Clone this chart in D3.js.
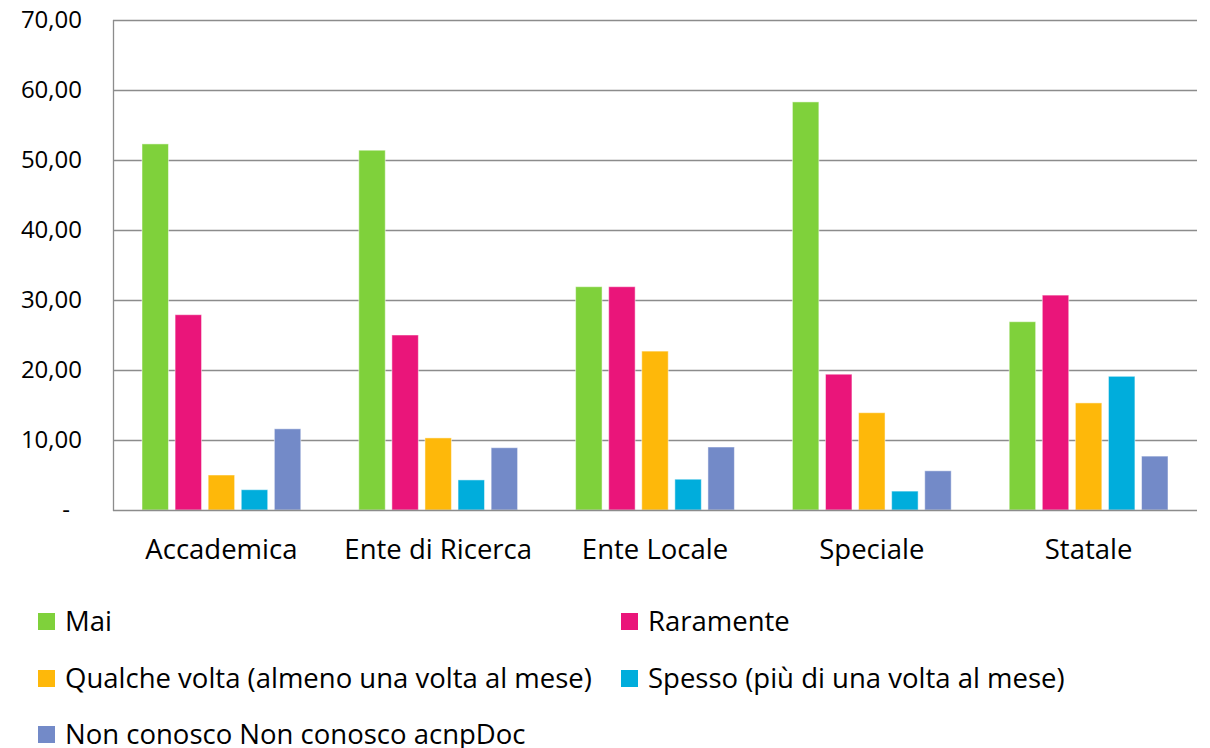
<!DOCTYPE html>
<html lang="it">
<head>
<meta charset="utf-8">
<script src="https://d3js.org/d3.v7.min.js"></script>
<style>
  body { margin: 0; background: #fff; }
  text { font-family: "Open Sans", sans-serif; fill: #000; }
</style>
</head>
<body>
<script>
// categories and series
var categories = ["Accademica", "Ente di Ricerca", "Ente Locale", "Speciale", "Statale"];
var seriesNames = ["Mai", "Raramente", "Qualche volta (almeno una volta al mese)",
                   "Spesso (più di una volta al mese)", "Non conosco Non conosco acnpDoc"];
var seriesColors = ["#7fd13b", "#ea157a", "#feb80a", "#00addc", "#738ac8"];

// values per series, one entry per category
var mai        = [52.3, 51.4, 31.9, 58.3, 26.9];
var raramente  = [27.9, 25.0, 31.9, 19.4, 30.7];
var qualche    = [5.0, 10.3, 22.7, 13.9, 15.3];
var spesso     = [2.9, 4.3, 4.4, 2.7, 19.1];
var nonConosco = [11.6, 8.9, 9.0, 5.6, 7.7];
var yTicks = [0, 10, 20, 30, 40, 50, 60, 70];

var seriesValues = [mai, raramente, qualche, spesso, nonConosco];

var W = 1210, H = 748;
var mLeft = 113, mRight = 1197, mTop = 20, mBottom = 510;

var svg = d3.select("body").append("svg")
  .attr("width", W)
  .attr("height", H);

var y = d3.scaleLinear().domain([0, 70]).range([mBottom, mTop]);

var x0 = d3.scaleBand().domain(categories).range([mLeft, mRight]);
var x1 = d3.scaleBand().domain(d3.range(seriesNames.length))
  .range([29, x0.bandwidth() - 29])
  .paddingInner(0.2);

// gridlines
svg.append("g")
  .selectAll("line")
  .data(yTicks.filter(function(d) { return d > 0; }))
  .enter().append("line")
  .attr("x1", mLeft).attr("x2", mRight)
  .attr("y1", function(d) { return y(d) + 0.5; })
  .attr("y2", function(d) { return y(d) + 0.5; })
  .attr("stroke", "#8c8c8c")
  .attr("stroke-width", 1.3);

// y axis labels
var fmt = function(d) {
  return d === 0 ? "-" : d3.format(".2f")(d).replace(".", ",");
};
var yAxis = svg.append("g")
  .attr("transform", "translate(" + mLeft + ",0)")
  .call(d3.axisLeft(y).tickValues(yTicks).tickFormat(fmt).tickSize(0));
yAxis.select(".domain").remove();
yAxis.selectAll("text")
  .style("font-size", "24px")
  .attr("dy", "0.33em")
  .attr("x", function(d) { return d === 0 ? -43 : -31; });

// bars
var groups = svg.append("g")
  .selectAll("g")
  .data(categories)
  .enter().append("g")
  .attr("transform", function(d) { return "translate(" + x0(d) + ",0)"; });

groups.selectAll("rect")
  .data(function(d, i) {
    return seriesValues.map(function(s, j) { return { s: j, v: s[i] }; });
  })
  .enter().append("rect")
  .attr("x", function(d) { return x1(d.s); })
  .attr("y", function(d) { return y(d.v); })
  .attr("width", x1.bandwidth())
  .attr("height", function(d) { return mBottom - y(d.v); })
  .attr("fill", function(d) { return seriesColors[d.s]; })
  .attr("stroke", "rgba(255,255,255,0.5)")
  .attr("stroke-width", 1);

// axis lines
svg.append("line")
  .attr("x1", mLeft + 0.5).attr("x2", mLeft + 0.5)
  .attr("y1", mTop).attr("y2", mBottom + 1)
  .attr("stroke", "#8c8c8c").attr("stroke-width", 1.3);
svg.append("line")
  .attr("x1", mLeft).attr("x2", mRight)
  .attr("y1", mBottom + 0.5).attr("y2", mBottom + 0.5)
  .attr("stroke", "#8c8c8c").attr("stroke-width", 1.3);

// x labels
var xAxis = svg.append("g")
  .attr("transform", "translate(0," + mBottom + ")")
  .call(d3.axisBottom(x0).tickSize(0).tickPadding(29));
xAxis.select(".domain").remove();
xAxis.selectAll("text").style("font-size", "27.5px");

// legend
var legendPos = [[38, 622], [621, 622], [38, 679], [621, 679], [38, 735]];
var legend = svg.append("g")
  .selectAll("g")
  .data(seriesNames)
  .enter().append("g")
  .attr("transform", function(d, i) { return "translate(" + legendPos[i][0] + "," + legendPos[i][1] + ")"; });

legend.append("rect")
  .attr("x", 0).attr("y", -9)
  .attr("width", 17).attr("height", 17)
  .attr("fill", function(d, i) { return seriesColors[i]; });

legend.append("text")
  .attr("x", 27)
  .attr("dy", "0.34em")
  .style("font-size", "27.5px")
  .text(function(d) { return d; });
</script>
</body>
</html>
